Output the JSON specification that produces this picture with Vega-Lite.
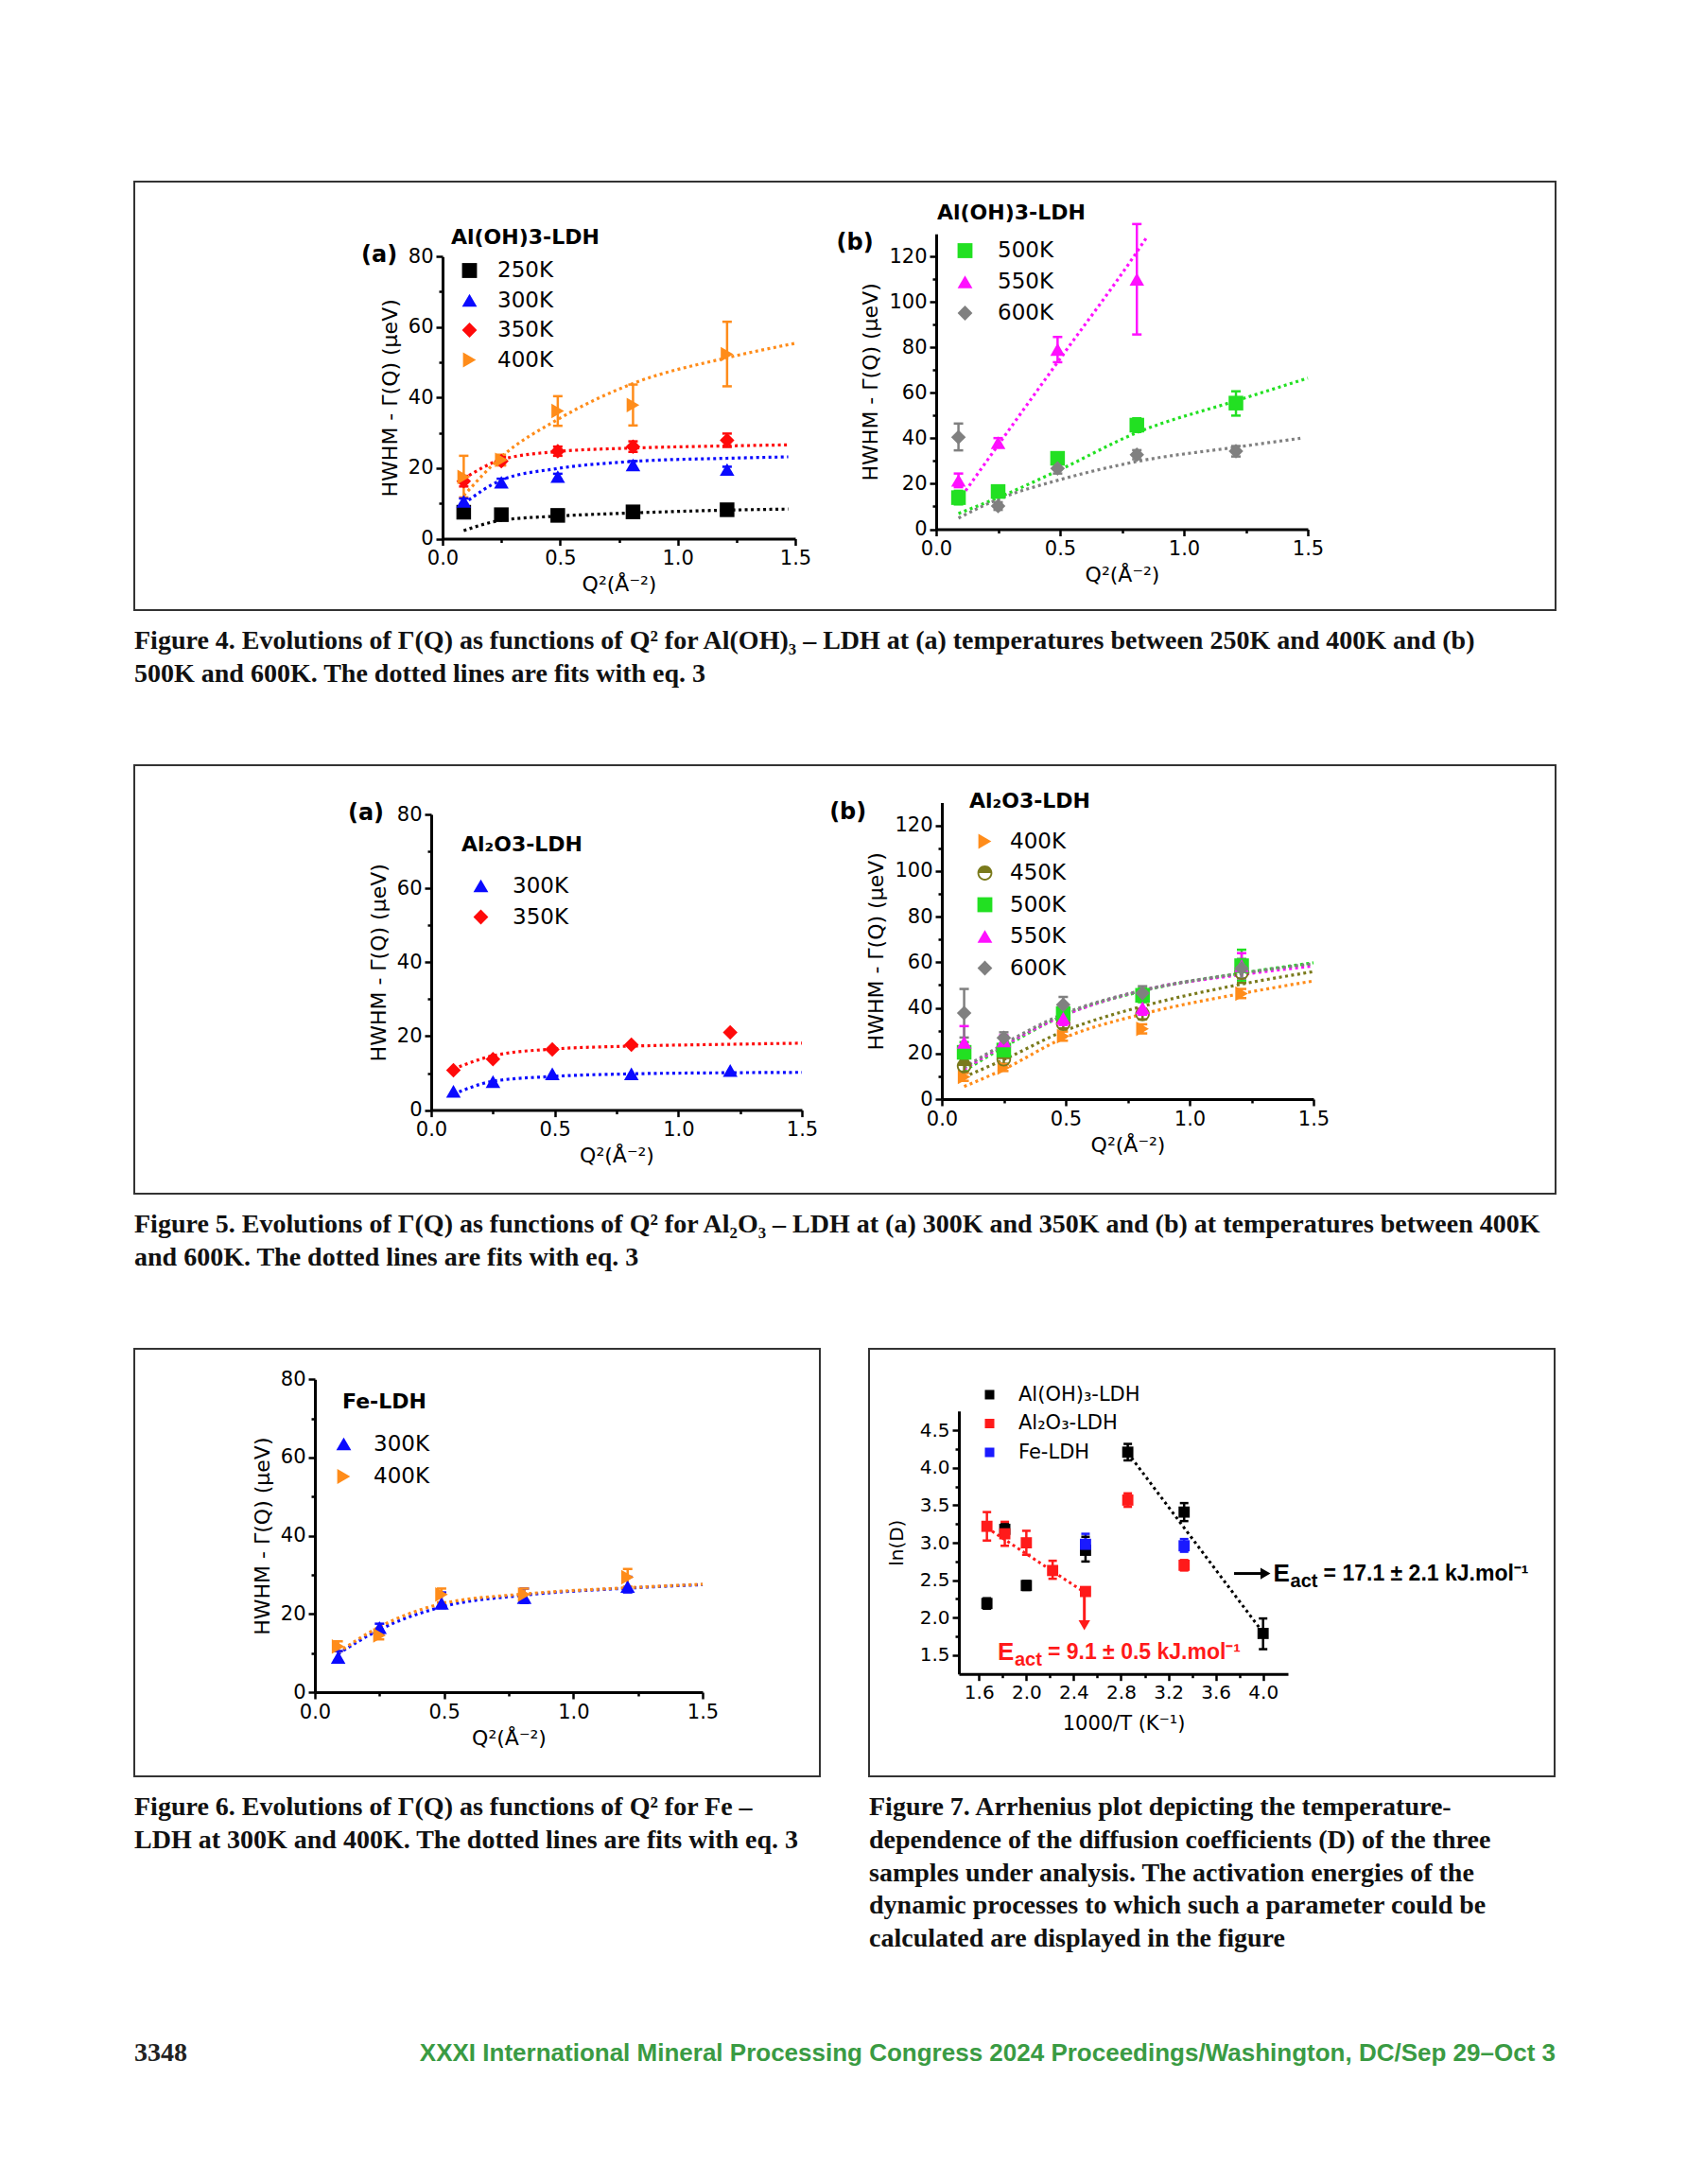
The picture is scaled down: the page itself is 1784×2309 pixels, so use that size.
{
  "$schema": "https://vega.github.io/schema/vega-lite/v6.json",
  "background": "white",
  "padding": {"left": 141, "top": 191, "right": 0, "bottom": 0},
  "spacing": 80,
  "resolve": {"scale": {"color": "independent", "shape": "independent", "stroke": "independent"}, "legend": {"color": "independent", "shape": "independent", "stroke": "independent"}},
  "config": {
    "font": "DejaVu Sans",
    "view": {"stroke": null},
    "axis": {"grid": false, "domainColor": "black", "domainWidth": 3, "tickColor": "black", "tickWidth": 2.5, "tickSize": 7, "labelFont": "DejaVu Sans", "labelFontSize": 21, "labelColor": "black", "labelPadding": 3, "titleFont": "DejaVu Sans", "titleFontSize": 22, "titleFontWeight": "normal", "titleColor": "black", "titlePadding": 7, "labelFlush": false, "labelOverlap": false},
    "legend": {"labelFont": "DejaVu Sans", "labelColor": "black", "titleFont": "DejaVu Sans", "titleColor": "black", "titleFontWeight": "bold", "padding": 0, "symbolStrokeWidth": 0}
  },
  "datasets": {
    "f4a_pts": [
      {"s": "250K", "x": 0.09, "y": 7.5, "lo": 6.6, "hi": 8.4},
      {"s": "250K", "x": 0.25, "y": 6.8, "lo": 5.9, "hi": 7.7},
      {"s": "250K", "x": 0.49, "y": 6.6, "lo": 5.8, "hi": 7.4},
      {"s": "250K", "x": 0.81, "y": 7.6, "lo": 6.8, "hi": 8.4},
      {"s": "250K", "x": 1.21, "y": 8.2, "lo": 7.3, "hi": 9.1},
      {"s": "300K", "x": 0.09, "y": 10.6, "lo": 9.8, "hi": 11.4},
      {"s": "300K", "x": 0.25, "y": 16.0, "lo": 15.0, "hi": 17.0},
      {"s": "300K", "x": 0.49, "y": 17.6, "lo": 16.8, "hi": 18.4},
      {"s": "300K", "x": 0.81, "y": 20.9, "lo": 19.8, "hi": 22.0},
      {"s": "300K", "x": 1.21, "y": 19.6, "lo": 18.8, "hi": 20.4},
      {"s": "350K", "x": 0.09, "y": 16.3, "lo": 14.8, "hi": 17.8},
      {"s": "350K", "x": 0.25, "y": 22.0, "lo": 20.8, "hi": 23.2},
      {"s": "350K", "x": 0.49, "y": 24.8, "lo": 23.5, "hi": 26.1},
      {"s": "350K", "x": 0.81, "y": 26.1, "lo": 24.6, "hi": 27.6},
      {"s": "350K", "x": 1.21, "y": 27.9, "lo": 26.0, "hi": 29.8},
      {"s": "400K", "x": 0.09, "y": 17.5, "lo": 11.7, "hi": 23.5},
      {"s": "400K", "x": 0.25, "y": 22.3, "lo": 20.8, "hi": 23.8},
      {"s": "400K", "x": 0.49, "y": 36.2, "lo": 32.0, "hi": 40.4},
      {"s": "400K", "x": 0.81, "y": 37.9, "lo": 32.1, "hi": 43.7},
      {"s": "400K", "x": 1.21, "y": 52.3, "lo": 43.2, "hi": 61.5}
    ],
    "f4a_fit": [
      {"s": "250K", "x": 0.09, "y": 2.3}, {"s": "250K", "x": 0.25, "y": 5.2}, {"s": "250K", "x": 0.49, "y": 6.4}, {"s": "250K", "x": 0.81, "y": 7.3}, {"s": "250K", "x": 1.21, "y": 8.1}, {"s": "250K", "x": 1.47, "y": 8.4},
      {"s": "300K", "x": 0.09, "y": 9.9}, {"s": "300K", "x": 0.25, "y": 16.6}, {"s": "300K", "x": 0.49, "y": 19.9}, {"s": "300K", "x": 0.81, "y": 21.9}, {"s": "300K", "x": 1.21, "y": 22.8}, {"s": "300K", "x": 1.47, "y": 23.2},
      {"s": "350K", "x": 0.09, "y": 17.0}, {"s": "350K", "x": 0.25, "y": 22.4}, {"s": "350K", "x": 0.49, "y": 24.7}, {"s": "350K", "x": 0.81, "y": 25.7}, {"s": "350K", "x": 1.21, "y": 26.3}, {"s": "350K", "x": 1.47, "y": 26.6},
      {"s": "400K", "x": 0.09, "y": 12.2}, {"s": "400K", "x": 0.25, "y": 23.2}, {"s": "400K", "x": 0.49, "y": 33.8}, {"s": "400K", "x": 0.81, "y": 44.0}, {"s": "400K", "x": 1.21, "y": 51.3}, {"s": "400K", "x": 1.5, "y": 55.4}
    ],
    "f4b_pts": [
      {"s": "500K", "x": 0.09, "y": 13.9, "lo": 10.9, "hi": 16.9},
      {"s": "500K", "x": 0.25, "y": 16.6, "lo": 14.6, "hi": 18.6},
      {"s": "500K", "x": 0.49, "y": 31.2, "lo": 29.2, "hi": 33.2},
      {"s": "500K", "x": 0.81, "y": 45.8, "lo": 42.8, "hi": 48.8},
      {"s": "500K", "x": 1.21, "y": 55.5, "lo": 50.0, "hi": 60.7},
      {"s": "550K", "x": 0.09, "y": 21.5, "lo": 18.5, "hi": 24.5},
      {"s": "550K", "x": 0.25, "y": 38.1, "lo": 36.1, "hi": 40.1},
      {"s": "550K", "x": 0.49, "y": 79.1, "lo": 73.5, "hi": 84.6},
      {"s": "550K", "x": 0.81, "y": 110.0, "lo": 85.7, "hi": 134.3},
      {"s": "600K", "x": 0.09, "y": 40.5, "lo": 34.7, "hi": 46.5},
      {"s": "600K", "x": 0.25, "y": 10.2, "lo": 8.5, "hi": 11.9},
      {"s": "600K", "x": 0.49, "y": 26.7, "lo": 24.5, "hi": 28.9},
      {"s": "600K", "x": 0.81, "y": 32.8, "lo": 30.8, "hi": 34.8},
      {"s": "600K", "x": 1.21, "y": 34.3, "lo": 32.0, "hi": 36.6}
    ],
    "f4b_fit": [
      {"s": "500K", "x": 0.09, "y": 6.9}, {"s": "500K", "x": 0.25, "y": 13.9}, {"s": "500K", "x": 0.49, "y": 25.7}, {"s": "500K", "x": 0.81, "y": 42.5}, {"s": "500K", "x": 1.21, "y": 56.5}, {"s": "500K", "x": 1.5, "y": 66.5},
      {"s": "550K", "x": 0.09, "y": 12.5}, {"s": "550K", "x": 0.25, "y": 37.0}, {"s": "550K", "x": 0.49, "y": 73.5}, {"s": "550K", "x": 0.81, "y": 122.0}, {"s": "550K", "x": 0.85, "y": 128.5},
      {"s": "600K", "x": 0.09, "y": 4.9}, {"s": "600K", "x": 0.25, "y": 13.2}, {"s": "600K", "x": 0.49, "y": 21.5}, {"s": "600K", "x": 0.81, "y": 29.8}, {"s": "600K", "x": 1.21, "y": 36.1}, {"s": "600K", "x": 1.47, "y": 40.0}
    ],
    "f5a_pts": [
      {"s": "300K", "x": 0.09, "y": 5.1, "lo": 4.1, "hi": 6.1},
      {"s": "300K", "x": 0.25, "y": 7.7, "lo": 6.7, "hi": 8.7},
      {"s": "300K", "x": 0.49, "y": 9.8, "lo": 8.8, "hi": 10.8},
      {"s": "300K", "x": 0.81, "y": 9.8, "lo": 8.8, "hi": 10.8},
      {"s": "300K", "x": 1.21, "y": 10.7, "lo": 9.7, "hi": 11.7},
      {"s": "350K", "x": 0.09, "y": 10.8, "lo": 9.8, "hi": 11.8},
      {"s": "350K", "x": 0.25, "y": 13.8, "lo": 12.8, "hi": 14.8},
      {"s": "350K", "x": 0.49, "y": 16.4, "lo": 15.4, "hi": 17.4},
      {"s": "350K", "x": 0.81, "y": 17.7, "lo": 16.7, "hi": 18.7},
      {"s": "350K", "x": 1.21, "y": 21.0, "lo": 20.0, "hi": 22.0}
    ],
    "f5a_fit": [
      {"s": "300K", "x": 0.09, "y": 4.3}, {"s": "300K", "x": 0.25, "y": 7.8}, {"s": "300K", "x": 0.49, "y": 9.1}, {"s": "300K", "x": 0.81, "y": 9.8}, {"s": "300K", "x": 1.21, "y": 10.1}, {"s": "300K", "x": 1.5, "y": 10.2},
      {"s": "350K", "x": 0.09, "y": 11.1}, {"s": "350K", "x": 0.25, "y": 14.7}, {"s": "350K", "x": 0.49, "y": 16.5}, {"s": "350K", "x": 0.81, "y": 17.3}, {"s": "350K", "x": 1.21, "y": 17.8}, {"s": "350K", "x": 1.5, "y": 18.1}
    ],
    "f5b_pts": [
      {"s": "400K", "x": 0.09, "y": 9.7, "lo": 8.0, "hi": 11.4},
      {"s": "400K", "x": 0.25, "y": 13.8, "lo": 12.3, "hi": 15.3},
      {"s": "400K", "x": 0.49, "y": 27.6, "lo": 25.6, "hi": 29.6},
      {"s": "400K", "x": 0.81, "y": 30.8, "lo": 28.8, "hi": 32.8},
      {"s": "400K", "x": 1.21, "y": 46.3, "lo": 44.3, "hi": 48.3},
      {"s": "450K", "x": 0.09, "y": 14.5, "lo": 12.0, "hi": 17.0},
      {"s": "450K", "x": 0.25, "y": 17.5, "lo": 15.5, "hi": 19.5},
      {"s": "450K", "x": 0.49, "y": 33.1, "lo": 31.0, "hi": 35.2},
      {"s": "450K", "x": 0.81, "y": 37.3, "lo": 35.0, "hi": 39.6},
      {"s": "450K", "x": 1.21, "y": 55.5, "lo": 51.0, "hi": 60.0},
      {"s": "500K", "x": 0.09, "y": 20.5, "lo": 16.0, "hi": 25.0},
      {"s": "500K", "x": 0.25, "y": 21.5, "lo": 19.0, "hi": 24.0},
      {"s": "500K", "x": 0.49, "y": 37.5, "lo": 34.5, "hi": 40.5},
      {"s": "500K", "x": 0.81, "y": 45.5, "lo": 42.5, "hi": 48.5},
      {"s": "500K", "x": 1.21, "y": 58.5, "lo": 52.0, "hi": 65.5},
      {"s": "550K", "x": 0.09, "y": 24.9, "lo": 18.0, "hi": 32.0},
      {"s": "550K", "x": 0.25, "y": 25.5, "lo": 23.0, "hi": 28.0},
      {"s": "550K", "x": 0.49, "y": 35.5, "lo": 32.5, "hi": 38.5},
      {"s": "550K", "x": 0.81, "y": 40.0, "lo": 37.0, "hi": 43.0},
      {"s": "550K", "x": 1.21, "y": 58.5, "lo": 53.0, "hi": 64.0},
      {"s": "600K", "x": 0.09, "y": 37.7, "lo": 27.0, "hi": 48.3},
      {"s": "600K", "x": 0.25, "y": 26.9, "lo": 24.5, "hi": 29.3},
      {"s": "600K", "x": 0.49, "y": 41.4, "lo": 38.0, "hi": 44.8},
      {"s": "600K", "x": 0.81, "y": 46.5, "lo": 43.5, "hi": 49.5},
      {"s": "600K", "x": 1.21, "y": 57.3, "lo": 53.0, "hi": 61.5}
    ],
    "f5b_fit": [
      {"s": "400K", "x": 0.09, "y": 5.5}, {"s": "400K", "x": 0.25, "y": 13.1}, {"s": "400K", "x": 0.49, "y": 26.7}, {"s": "400K", "x": 0.81, "y": 37.3}, {"s": "400K", "x": 1.21, "y": 46.3}, {"s": "400K", "x": 1.5, "y": 51.8},
      {"s": "450K", "x": 0.09, "y": 9.7}, {"s": "450K", "x": 0.25, "y": 17.3}, {"s": "450K", "x": 0.49, "y": 29.7}, {"s": "450K", "x": 0.81, "y": 40.7}, {"s": "450K", "x": 1.21, "y": 50.4}, {"s": "450K", "x": 1.5, "y": 55.9},
      {"s": "500K", "x": 0.09, "y": 12.4}, {"s": "500K", "x": 0.25, "y": 22.8}, {"s": "500K", "x": 0.49, "y": 36.6}, {"s": "500K", "x": 0.81, "y": 47.4}, {"s": "500K", "x": 1.21, "y": 55.2}, {"s": "500K", "x": 1.5, "y": 59.8},
      {"s": "550K", "x": 0.09, "y": 13.1}, {"s": "550K", "x": 0.25, "y": 23.5}, {"s": "550K", "x": 0.49, "y": 36.6}, {"s": "550K", "x": 0.81, "y": 47.7}, {"s": "550K", "x": 1.21, "y": 54.6}, {"s": "550K", "x": 1.5, "y": 58.4},
      {"s": "600K", "x": 0.09, "y": 13.8}, {"s": "600K", "x": 0.25, "y": 24.2}, {"s": "600K", "x": 0.49, "y": 37.3}, {"s": "600K", "x": 0.81, "y": 47.7}, {"s": "600K", "x": 1.21, "y": 55.2}, {"s": "600K", "x": 1.5, "y": 59.4}
    ],
    "f6_pts": [
      {"s": "300K", "x": 0.09, "y": 8.9, "lo": 8.0, "hi": 10.5},
      {"s": "300K", "x": 0.25, "y": 16.5, "lo": 15.0, "hi": 17.5},
      {"s": "300K", "x": 0.49, "y": 22.7, "lo": 21.5, "hi": 25.5},
      {"s": "300K", "x": 0.81, "y": 24.2, "lo": 22.8, "hi": 26.5},
      {"s": "300K", "x": 1.21, "y": 27.0, "lo": 25.5, "hi": 29.5},
      {"s": "400K", "x": 0.09, "y": 11.7, "lo": 10.5, "hi": 13.0},
      {"s": "400K", "x": 0.25, "y": 14.5, "lo": 13.5, "hi": 15.5},
      {"s": "400K", "x": 0.49, "y": 25.0, "lo": 23.0, "hi": 26.5},
      {"s": "400K", "x": 0.81, "y": 25.0, "lo": 23.5, "hi": 26.5},
      {"s": "400K", "x": 1.21, "y": 29.4, "lo": 27.0, "hi": 31.5}
    ],
    "f6_fit": [
      {"s": "300K", "x": 0.09, "y": 9.8}, {"s": "300K", "x": 0.25, "y": 16.0}, {"s": "300K", "x": 0.49, "y": 21.8}, {"s": "300K", "x": 0.81, "y": 24.8}, {"s": "300K", "x": 1.21, "y": 26.6}, {"s": "300K", "x": 1.5, "y": 27.5},
      {"s": "400K", "x": 0.09, "y": 10.2}, {"s": "400K", "x": 0.25, "y": 16.7}, {"s": "400K", "x": 0.49, "y": 22.6}, {"s": "400K", "x": 0.81, "y": 25.1}, {"s": "400K", "x": 1.21, "y": 26.7}, {"s": "400K", "x": 1.5, "y": 27.6}
    ],
    "f7_pts": [
      {"s": "Al(OH)₃-LDH", "x": 1.667, "y": 2.19, "lo": 2.12, "hi": 2.26},
      {"s": "Al(OH)₃-LDH", "x": 1.818, "y": 3.18, "lo": 3.1, "hi": 3.25},
      {"s": "Al(OH)₃-LDH", "x": 2.0, "y": 2.43, "lo": 2.37, "hi": 2.49},
      {"s": "Al(OH)₃-LDH", "x": 2.5, "y": 2.9, "lo": 2.75, "hi": 3.08},
      {"s": "Al(OH)₃-LDH", "x": 2.857, "y": 4.21, "lo": 4.1, "hi": 4.32},
      {"s": "Al(OH)₃-LDH", "x": 3.333, "y": 3.41, "lo": 3.29, "hi": 3.53},
      {"s": "Al(OH)₃-LDH", "x": 4.0, "y": 1.79, "lo": 1.58, "hi": 1.99},
      {"s": "Al₂O₃-LDH", "x": 1.667, "y": 3.22, "lo": 3.03, "hi": 3.41},
      {"s": "Al₂O₃-LDH", "x": 1.818, "y": 3.12, "lo": 2.96, "hi": 3.28},
      {"s": "Al₂O₃-LDH", "x": 2.0, "y": 3.0, "lo": 2.84, "hi": 3.16},
      {"s": "Al₂O₃-LDH", "x": 2.222, "y": 2.63, "lo": 2.52, "hi": 2.76},
      {"s": "Al₂O₃-LDH", "x": 2.5, "y": 2.35, "lo": 2.3, "hi": 2.4},
      {"s": "Al₂O₃-LDH", "x": 2.857, "y": 3.57, "lo": 3.48, "hi": 3.66},
      {"s": "Al₂O₃-LDH", "x": 3.333, "y": 2.7, "lo": 2.63, "hi": 2.77},
      {"s": "Fe-LDH", "x": 2.5, "y": 2.98, "lo": 2.85, "hi": 3.12},
      {"s": "Fe-LDH", "x": 3.333, "y": 2.96, "lo": 2.88, "hi": 3.05}
    ],
    "f7_fit": [
      {"s": "Al(OH)₃-LDH", "x": 2.857, "y": 4.2}, {"s": "Al(OH)₃-LDH", "x": 4.0, "y": 1.8},
      {"s": "Al₂O₃-LDH", "x": 1.667, "y": 3.2}, {"s": "Al₂O₃-LDH", "x": 2.5, "y": 2.33}
    ]
  },
  "vconcat": [
    {
      "width": 1503, "height": 453,
      "view": {"stroke": "#333333", "strokeWidth": 2},
      "title": {"text": ["Figure 4. Evolutions of Γ(Q) as functions of Q² for Al(OH)₃ – LDH at (a) temperatures between 250K and 400K and (b)", "500K and 600K. The dotted lines are fits with eq. 3"], "orient": "bottom", "anchor": "start", "frame": "group", "baseline": "top", "font": "Liberation Serif", "fontSize": 28, "fontWeight": "bold", "color": "#111111", "lineHeight": 34.5, "offset": 19},
      "resolve": {"scale": {"x": "independent", "y": "independent", "color": "independent", "shape": "independent", "stroke": "independent"}, "axis": {"x": "independent", "y": "independent"}, "legend": {"color": "independent", "shape": "independent", "stroke": "independent"}},
      "layer": [
        {
          "layer": [
            {"data": {"name": "f4a_fit"}, "mark": {"type": "line", "interpolate": "monotone", "strokeDash": [3, 3.5], "strokeWidth": 3.2},
              "encoding": {
                "x": {"field": "x", "type": "quantitative", "scale": {"domain": [0, 1.5], "range": [326, 699], "nice": false, "zero": false}, "axis": {"orient": "bottom", "offset": -75.5, "values": [0, 0.5, 1, 1.5], "format": ".1f", "title": "Q²(Å⁻²)"}},
                "y": {"field": "y", "type": "quantitative", "scale": {"domain": [0, 80], "range": [377.5, 79.2], "nice": false, "zero": false}, "axis": {"orient": "left", "offset": -326, "values": [0, 20, 40, 60, 80], "format": "d", "title": "HWHM - Γ(Q) (µeV)"}},
                "stroke": {"field": "s", "type": "nominal", "scale": {"range": ["#000000", "#0a0aff", "#ff0a0a", "#ff8c1a"]}, "legend": null}
              }},
            {"data": {"name": "f4a_pts"}, "mark": {"type": "rule", "strokeWidth": 2.5}, "encoding": {"x": {"field": "x", "type": "quantitative"}, "y": {"field": "lo", "type": "quantitative"}, "y2": {"field": "hi"}, "stroke": {"field": "s", "type": "nominal", "legend": null}}},
            {"data": {"name": "f4a_pts"}, "mark": {"type": "point", "shape": "stroke", "filled": false, "opacity": 1, "size": 100, "strokeWidth": 2.5}, "encoding": {"x": {"field": "x", "type": "quantitative"}, "y": {"field": "lo", "type": "quantitative"}, "stroke": {"field": "s", "type": "nominal", "legend": null}}},
            {"data": {"name": "f4a_pts"}, "mark": {"type": "point", "shape": "stroke", "filled": false, "opacity": 1, "size": 100, "strokeWidth": 2.5}, "encoding": {"x": {"field": "x", "type": "quantitative"}, "y": {"field": "hi", "type": "quantitative"}, "stroke": {"field": "s", "type": "nominal", "legend": null}}},
            {"data": {"name": "f4a_pts"}, "mark": {"type": "point", "filled": true, "opacity": 1, "size": 240},
              "encoding": {
                "x": {"field": "x", "type": "quantitative"}, "y": {"field": "y", "type": "quantitative"},
                "color": {"field": "s", "type": "nominal", "scale": {"domain": ["250K", "300K", "350K", "400K"], "range": ["#000000", "#0a0aff", "#ff0a0a", "#ff8c1a"]}, "legend": {"orient": "none", "legendX": 335, "legendY": 48.5, "title": "Al(OH)3-LDH", "titleFontSize": 22, "titlePadding": 12, "labelFontSize": 23, "labelOffset": 18, "symbolSize": 250, "symbolOffset": 8, "rowPadding": 7.5}},
                "shape": {"field": "s", "type": "nominal", "scale": {"domain": ["250K", "300K", "350K", "400K"], "range": ["square", "triangle-up", "diamond", "triangle-right"]}, "legend": {"orient": "none", "legendX": 335, "legendY": 48.5, "title": "Al(OH)3-LDH", "titleFontSize": 22, "titlePadding": 12, "labelFontSize": 23, "labelOffset": 18, "symbolSize": 250, "symbolOffset": 8, "rowPadding": 7.5}}
              }},
            {"data": {"values": [{}]}, "mark": {"type": "text", "text": "(a)", "font": "DejaVu Sans", "fontSize": 24, "fontWeight": "bold", "color": "black"}, "encoding": {"x": {"datum": -0.269}, "y": {"datum": 80.3}}}
          ]
        },
        {
          "layer": [
            {"data": {"name": "f4b_fit"}, "mark": {"type": "line", "interpolate": "monotone", "strokeDash": [3, 3.5], "strokeWidth": 3.2},
              "encoding": {
                "x": {"field": "x", "type": "quantitative", "scale": {"domain": [0, 1.5], "range": [848, 1241], "nice": false, "zero": false}, "axis": {"orient": "bottom", "offset": -85.5, "values": [0, 0.5, 1, 1.5], "format": ".1f", "title": "Q²(Å⁻²)"}},
                "y": {"field": "y", "type": "quantitative", "scale": {"domain": [0, 130], "range": [367.5, 55.2], "nice": false, "zero": false}, "axis": {"orient": "left", "offset": -848, "values": [0, 20, 40, 60, 80, 100, 120], "format": "d", "title": "HWHM - Γ(Q) (µeV)"}},
                "stroke": {"field": "s", "type": "nominal", "scale": {"range": ["#22e022", "#ff10ff", "#808080"]}, "legend": null}
              }},
            {"data": {"name": "f4b_pts"}, "mark": {"type": "rule", "strokeWidth": 2.5}, "encoding": {"x": {"field": "x", "type": "quantitative"}, "y": {"field": "lo", "type": "quantitative"}, "y2": {"field": "hi"}, "stroke": {"field": "s", "type": "nominal", "legend": null}}},
            {"data": {"name": "f4b_pts"}, "mark": {"type": "point", "shape": "stroke", "filled": false, "opacity": 1, "size": 100, "strokeWidth": 2.5}, "encoding": {"x": {"field": "x", "type": "quantitative"}, "y": {"field": "lo", "type": "quantitative"}, "stroke": {"field": "s", "type": "nominal", "legend": null}}},
            {"data": {"name": "f4b_pts"}, "mark": {"type": "point", "shape": "stroke", "filled": false, "opacity": 1, "size": 100, "strokeWidth": 2.5}, "encoding": {"x": {"field": "x", "type": "quantitative"}, "y": {"field": "hi", "type": "quantitative"}, "stroke": {"field": "s", "type": "nominal", "legend": null}}},
            {"data": {"name": "f4b_pts"}, "mark": {"type": "point", "filled": true, "opacity": 1, "size": 240},
              "encoding": {
                "x": {"field": "x", "type": "quantitative"}, "y": {"field": "y", "type": "quantitative"},
                "color": {"field": "s", "type": "nominal", "scale": {"domain": ["500K", "550K", "600K"], "range": ["#22e022", "#ff10ff", "#808080"]}, "legend": {"orient": "none", "legendX": 849, "legendY": 22.5, "title": "Al(OH)3-LDH", "titleFontSize": 22, "titlePadding": 17, "labelFontSize": 23, "labelOffset": 23, "symbolSize": 250, "symbolOffset": 18, "rowPadding": 9}},
                "shape": {"field": "s", "type": "nominal", "scale": {"domain": ["500K", "550K", "600K"], "range": ["square", "triangle-up", "diamond"]}, "legend": {"orient": "none", "legendX": 849, "legendY": 22.5, "title": "Al(OH)3-LDH", "titleFontSize": 22, "titlePadding": 17, "labelFontSize": 23, "labelOffset": 23, "symbolSize": 250, "symbolOffset": 18, "rowPadding": 9}}
              }},
            {"data": {"values": [{}]}, "mark": {"type": "text", "text": "(b)", "font": "DejaVu Sans", "fontSize": 24, "fontWeight": "bold", "color": "black"}, "encoding": {"x": {"datum": -0.328}, "y": {"datum": 126.1}}}
          ]
        },
        {"data": {"values": [{}]}, "mark": {"type": "point", "opacity": 0},
          "encoding": {
            "x": {"datum": 0.75, "scale": {"domain": [0, 1.5], "range": [326, 699], "nice": false, "zero": false}, "axis": {"orient": "bottom", "offset": -75.5, "values": [0.25, 0.75, 1.25], "labels": false, "domain": false, "title": null, "tickSize": 4}},
            "y": {"datum": 30, "scale": {"domain": [0, 80], "range": [377.5, 79.2], "nice": false, "zero": false}, "axis": {"orient": "left", "offset": -326, "values": [10, 30, 50, 70], "labels": false, "domain": false, "title": null, "tickSize": 4}}
          }},
        {"data": {"values": [{}]}, "mark": {"type": "point", "opacity": 0},
          "encoding": {
            "x": {"datum": 0.75, "scale": {"domain": [0, 1.5], "range": [848, 1241], "nice": false, "zero": false}, "axis": {"orient": "bottom", "offset": -85.5, "values": [0.25, 0.75, 1.25], "labels": false, "domain": false, "title": null, "tickSize": 4}},
            "y": {"datum": 30, "scale": {"domain": [0, 130], "range": [367.5, 55.2], "nice": false, "zero": false}, "axis": {"orient": "left", "offset": -848, "values": [10, 30, 50, 70, 90, 110], "labels": false, "domain": false, "title": null, "tickSize": 4}}
          }}
      ]
    },
    {
      "width": 1503, "height": 453,
      "view": {"stroke": "#333333", "strokeWidth": 2},
      "title": {"text": ["Figure 5. Evolutions of Γ(Q) as functions of Q² for Al₂O₃ – LDH at (a) 300K and 350K and (b) at temperatures between 400K", "and 600K. The dotted lines are fits with eq. 3"], "orient": "bottom", "anchor": "start", "frame": "group", "baseline": "top", "font": "Liberation Serif", "fontSize": 28, "fontWeight": "bold", "color": "#111111", "lineHeight": 34.5, "offset": 19},
      "resolve": {"scale": {"x": "independent", "y": "independent", "color": "independent", "shape": "independent", "stroke": "independent"}, "axis": {"x": "independent", "y": "independent"}, "legend": {"color": "independent", "shape": "independent", "stroke": "independent"}},
      "layer": [
        {
          "layer": [
            {"data": {"name": "f5a_fit"}, "mark": {"type": "line", "interpolate": "monotone", "strokeDash": [3, 3.5], "strokeWidth": 3.2},
              "encoding": {
                "x": {"field": "x", "type": "quantitative", "scale": {"domain": [0, 1.5], "range": [314, 706], "nice": false, "zero": false}, "axis": {"orient": "bottom", "offset": -88.4, "values": [0, 0.5, 1, 1.5], "format": ".1f", "title": "Q²(Å⁻²)"}},
                "y": {"field": "y", "type": "quantitative", "scale": {"domain": [0, 80], "range": [364.6, 52], "nice": false, "zero": false}, "axis": {"orient": "left", "offset": -314, "values": [0, 20, 40, 60, 80], "format": "d", "title": "HWHM - Γ(Q) (µeV)"}},
                "stroke": {"field": "s", "type": "nominal", "scale": {"range": ["#0a0aff", "#ff0a0a"]}, "legend": null}
              }},
            {"data": {"name": "f5a_pts"}, "mark": {"type": "rule", "strokeWidth": 2.5}, "encoding": {"x": {"field": "x", "type": "quantitative"}, "y": {"field": "lo", "type": "quantitative"}, "y2": {"field": "hi"}, "stroke": {"field": "s", "type": "nominal", "legend": null}}},
            {"data": {"name": "f5a_pts"}, "mark": {"type": "point", "filled": true, "opacity": 1, "size": 240},
              "encoding": {
                "x": {"field": "x", "type": "quantitative"}, "y": {"field": "y", "type": "quantitative"},
                "color": {"field": "s", "type": "nominal", "scale": {"domain": ["300K", "350K"], "range": ["#0a0aff", "#ff0a0a"]}, "legend": {"orient": "none", "legendX": 346, "legendY": 74, "title": "Al₂O3-LDH", "titleFontSize": 22, "titlePadding": 20, "labelFontSize": 23, "labelOffset": 22, "symbolSize": 250, "symbolOffset": 9, "rowPadding": 9}},
                "shape": {"field": "s", "type": "nominal", "scale": {"domain": ["300K", "350K"], "range": ["triangle-up", "diamond"]}, "legend": {"orient": "none", "legendX": 346, "legendY": 74, "title": "Al₂O3-LDH", "titleFontSize": 22, "titlePadding": 20, "labelFontSize": 23, "labelOffset": 22, "symbolSize": 250, "symbolOffset": 9, "rowPadding": 9}}
              }},
            {"data": {"values": [{}]}, "mark": {"type": "text", "text": "(a)", "font": "DejaVu Sans", "fontSize": 24, "fontWeight": "bold", "color": "black"}, "encoding": {"x": {"datum": -0.264}, "y": {"datum": 80.2}}}
          ]
        },
        {
          "layer": [
            {"data": {"name": "f5b_fit"}, "mark": {"type": "line", "interpolate": "monotone", "strokeDash": [3, 3.5], "strokeWidth": 3.2},
              "encoding": {
                "x": {"field": "x", "type": "quantitative", "scale": {"domain": [0, 1.5], "range": [854, 1247], "nice": false, "zero": false}, "axis": {"orient": "bottom", "offset": -100, "values": [0, 0.5, 1, 1.5], "format": ".1f", "title": "Q²(Å⁻²)"}},
                "y": {"field": "y", "type": "quantitative", "scale": {"domain": [0, 130], "range": [353, 39.6], "nice": false, "zero": false}, "axis": {"orient": "left", "offset": -854, "values": [0, 20, 40, 60, 80, 100, 120], "format": "d", "title": "HWHM - Γ(Q) (µeV)"}},
                "stroke": {"field": "s", "type": "nominal", "scale": {"range": ["#ff8c1a", "#7a7a1c", "#22e022", "#ff10ff", "#808080"]}, "legend": null}
              }},
            {"data": {"name": "f5b_pts"}, "mark": {"type": "rule", "strokeWidth": 2.5}, "encoding": {"x": {"field": "x", "type": "quantitative"}, "y": {"field": "lo", "type": "quantitative"}, "y2": {"field": "hi"}, "stroke": {"field": "s", "type": "nominal", "legend": null}}},
            {"data": {"name": "f5b_pts"}, "mark": {"type": "point", "shape": "stroke", "filled": false, "opacity": 1, "size": 100, "strokeWidth": 2.5}, "encoding": {"x": {"field": "x", "type": "quantitative"}, "y": {"field": "lo", "type": "quantitative"}, "stroke": {"field": "s", "type": "nominal", "legend": null}}},
            {"data": {"name": "f5b_pts"}, "mark": {"type": "point", "shape": "stroke", "filled": false, "opacity": 1, "size": 100, "strokeWidth": 2.5}, "encoding": {"x": {"field": "x", "type": "quantitative"}, "y": {"field": "hi", "type": "quantitative"}, "stroke": {"field": "s", "type": "nominal", "legend": null}}},
            {"data": {"name": "f5b_pts"}, "mark": {"type": "point", "filled": true, "opacity": 1, "size": 240},
              "encoding": {
                "x": {"field": "x", "type": "quantitative"}, "y": {"field": "y", "type": "quantitative"},
                "color": {"field": "s", "type": "nominal", "scale": {"domain": ["400K", "450K", "500K", "550K", "600K"], "range": ["#ff8c1a", "#7a7a1c", "#22e022", "#ff10ff", "#808080"]}, "legend": {"orient": "none", "legendX": 883, "legendY": 28, "title": "Al₂O3-LDH", "titleFontSize": 22, "titlePadding": 19, "labelFontSize": 23, "labelOffset": 15, "symbolSize": 250, "symbolOffset": 5, "rowPadding": 9.5}},
                "shape": {"field": "s", "type": "nominal", "scale": {"domain": ["400K", "450K", "500K", "550K", "600K"], "range": ["triangle-right", "M-1,0A1,1,0,0,1,1,0Z M-1,0A1,1,0,0,0,1,0L0.76,0A0.76,0.76,0,0,1,-0.76,0Z", "square", "triangle-up", "diamond"]}, "legend": {"orient": "none", "legendX": 883, "legendY": 28, "title": "Al₂O3-LDH", "titleFontSize": 22, "titlePadding": 19, "labelFontSize": 23, "labelOffset": 15, "symbolSize": 250, "symbolOffset": 5, "rowPadding": 9.5}}
              }},
            {"data": {"values": [{}]}, "mark": {"type": "text", "text": "(b)", "font": "DejaVu Sans", "fontSize": 24, "fontWeight": "bold", "color": "black"}, "encoding": {"x": {"datum": -0.379}, "y": {"datum": 125.6}}}
          ]
        },
        {"data": {"values": [{}]}, "mark": {"type": "point", "opacity": 0},
          "encoding": {
            "x": {"datum": 0.75, "scale": {"domain": [0, 1.5], "range": [314, 706], "nice": false, "zero": false}, "axis": {"orient": "bottom", "offset": -88.4, "values": [0.25, 0.75, 1.25], "labels": false, "domain": false, "title": null, "tickSize": 4}},
            "y": {"datum": 30, "scale": {"domain": [0, 80], "range": [364.6, 52], "nice": false, "zero": false}, "axis": {"orient": "left", "offset": -314, "values": [10, 30, 50, 70], "labels": false, "domain": false, "title": null, "tickSize": 4}}
          }},
        {"data": {"values": [{}]}, "mark": {"type": "point", "opacity": 0},
          "encoding": {
            "x": {"datum": 0.75, "scale": {"domain": [0, 1.5], "range": [854, 1247], "nice": false, "zero": false}, "axis": {"orient": "bottom", "offset": -100, "values": [0.25, 0.75, 1.25], "labels": false, "domain": false, "title": null, "tickSize": 4}},
            "y": {"datum": 30, "scale": {"domain": [0, 130], "range": [353, 39.6], "nice": false, "zero": false}, "axis": {"orient": "left", "offset": -854, "values": [10, 30, 50, 70, 90, 110], "labels": false, "domain": false, "title": null, "tickSize": 4}}
          }}
      ]
    },
    {
      "spacing": 50,
      "resolve": {"scale": {"color": "independent", "shape": "independent", "stroke": "independent"}, "legend": {"color": "independent", "shape": "independent", "stroke": "independent"}},
      "hconcat": [
        {
          "width": 725, "height": 452,
          "view": {"stroke": "#333333", "strokeWidth": 2},
          "title": {"text": ["Figure 6. Evolutions of Γ(Q) as functions of Q² for Fe –", "LDH at 300K and 400K. The dotted lines are fits with eq. 3"], "orient": "bottom", "anchor": "start", "frame": "group", "baseline": "top", "font": "Liberation Serif", "fontSize": 28, "fontWeight": "bold", "color": "#111111", "lineHeight": 34.8, "offset": 19},
          "resolve": {"scale": {"x": "independent", "y": "independent"}, "axis": {"x": "independent", "y": "independent"}},
          "layer": [
            {
              "layer": [
                {"data": {"name": "f6_fit"}, "mark": {"type": "line", "interpolate": "monotone", "strokeDash": [3, 3.5], "strokeWidth": 3.2},
                  "encoding": {
                    "x": {"field": "x", "type": "quantitative", "scale": {"domain": [0, 1.5], "range": [191, 601], "nice": false, "zero": false}, "axis": {"orient": "bottom", "offset": -89, "values": [0, 0.5, 1, 1.5], "format": ".1f", "title": "Q²(Å⁻²)"}},
                    "y": {"field": "y", "type": "quantitative", "scale": {"domain": [0, 80], "range": [363, 32.3], "nice": false, "zero": false}, "axis": {"orient": "left", "offset": -191, "values": [0, 20, 40, 60, 80], "format": "d", "title": "HWHM - Γ(Q) (µeV)"}},
                    "stroke": {"field": "s", "type": "nominal", "scale": {"range": ["#0a0aff", "#ff8c1a"]}, "legend": null}
                  }},
                {"data": {"name": "f6_pts"}, "mark": {"type": "rule", "strokeWidth": 2.5}, "encoding": {"x": {"field": "x", "type": "quantitative"}, "y": {"field": "lo", "type": "quantitative"}, "y2": {"field": "hi"}, "stroke": {"field": "s", "type": "nominal", "legend": null}}},
                {"data": {"name": "f6_pts"}, "mark": {"type": "point", "shape": "stroke", "filled": false, "opacity": 1, "size": 100, "strokeWidth": 2.5}, "encoding": {"x": {"field": "x", "type": "quantitative"}, "y": {"field": "lo", "type": "quantitative"}, "stroke": {"field": "s", "type": "nominal", "legend": null}}},
                {"data": {"name": "f6_pts"}, "mark": {"type": "point", "shape": "stroke", "filled": false, "opacity": 1, "size": 100, "strokeWidth": 2.5}, "encoding": {"x": {"field": "x", "type": "quantitative"}, "y": {"field": "hi", "type": "quantitative"}, "stroke": {"field": "s", "type": "nominal", "legend": null}}},
                {"data": {"name": "f6_pts"}, "mark": {"type": "point", "filled": true, "opacity": 1, "size": 240},
                  "encoding": {
                    "x": {"field": "x", "type": "quantitative"}, "y": {"field": "y", "type": "quantitative"},
                    "color": {"field": "s", "type": "nominal", "scale": {"domain": ["300K", "400K"], "range": ["#0a0aff", "#ff8c1a"]}, "legend": {"orient": "none", "legendX": 220, "legendY": 46, "title": "Fe-LDH", "titleFontSize": 22, "titlePadding": 21, "labelFontSize": 23, "labelOffset": 20, "symbolSize": 250, "symbolOffset": -10, "rowPadding": 10.5}},
                    "shape": {"field": "s", "type": "nominal", "scale": {"domain": ["300K", "400K"], "range": ["triangle-up", "triangle-right"]}, "legend": {"orient": "none", "legendX": 220, "legendY": 46, "title": "Fe-LDH", "titleFontSize": 22, "titlePadding": 21, "labelFontSize": 23, "labelOffset": 20, "symbolSize": 250, "symbolOffset": -10, "rowPadding": 10.5}}
                  }}
              ]
            },
            {"data": {"values": [{}]}, "mark": {"type": "point", "opacity": 0},
              "encoding": {
                "x": {"datum": 0.75, "scale": {"domain": [0, 1.5], "range": [191, 601], "nice": false, "zero": false}, "axis": {"orient": "bottom", "offset": -89, "values": [0.25, 0.75, 1.25], "labels": false, "domain": false, "title": null, "tickSize": 4}},
                "y": {"datum": 30, "scale": {"domain": [0, 80], "range": [363, 32.3], "nice": false, "zero": false}, "axis": {"orient": "left", "offset": -191, "values": [10, 30, 50, 70], "labels": false, "domain": false, "title": null, "tickSize": 4}}
              }}
          ]
        },
        {
          "width": 725, "height": 452,
          "view": {"stroke": "#333333", "strokeWidth": 2},
          "title": {"text": ["Figure 7. Arrhenius plot depicting the temperature-", "dependence of the diffusion coefficients (D) of the three", "samples under analysis. The activation energies of the", "dynamic processes to which such a parameter could be", "calculated are displayed in the figure"], "orient": "bottom", "anchor": "start", "frame": "group", "baseline": "top", "font": "Liberation Serif", "fontSize": 28, "fontWeight": "bold", "color": "#111111", "lineHeight": 34.8, "offset": 19},
          "resolve": {"scale": {"x": "independent", "y": "independent"}, "axis": {"x": "independent", "y": "independent"}},
          "layer": [
            {
              "layer": [
                {"data": {"name": "f7_fit"}, "mark": {"type": "line", "strokeDash": [3, 3.5], "strokeWidth": 3},
                  "encoding": {
                    "x": {"field": "x", "type": "quantitative", "scale": {"domain": [1.43, 4.21], "range": [95, 443], "nice": false, "zero": false}, "axis": {"orient": "bottom", "offset": -108.3, "values": [1.6, 2.0, 2.4, 2.8, 3.2, 3.6, 4.0], "format": ".1f", "title": "1000/T (K⁻¹)", "labelFontSize": 20, "titleFontSize": 21, "titlePadding": 12}},
                    "y": {"field": "y", "type": "quantitative", "scale": {"domain": [1.25, 4.76], "range": [343.7, 65.7], "nice": false, "zero": false}, "axis": {"orient": "left", "offset": -95, "values": [1.5, 2.0, 2.5, 3.0, 3.5, 4.0, 4.5], "format": ".1f", "title": "ln(D)", "labelFontSize": 20, "titleFontSize": 20, "titlePadding": 14}},
                    "stroke": {"field": "s", "type": "nominal", "scale": {"range": ["#000000", "#ff1a1a", "#1a1aff"]}, "legend": null}
                  }},
                {"data": {"name": "f7_pts"}, "mark": {"type": "rule", "strokeWidth": 2.5}, "encoding": {"x": {"field": "x", "type": "quantitative"}, "y": {"field": "lo", "type": "quantitative"}, "y2": {"field": "hi"}, "stroke": {"field": "s", "type": "nominal", "legend": null}}},
                {"data": {"name": "f7_pts"}, "mark": {"type": "point", "shape": "stroke", "filled": false, "opacity": 1, "size": 81, "strokeWidth": 2.5}, "encoding": {"x": {"field": "x", "type": "quantitative"}, "y": {"field": "lo", "type": "quantitative"}, "stroke": {"field": "s", "type": "nominal", "legend": null}}},
                {"data": {"name": "f7_pts"}, "mark": {"type": "point", "shape": "stroke", "filled": false, "opacity": 1, "size": 81, "strokeWidth": 2.5}, "encoding": {"x": {"field": "x", "type": "quantitative"}, "y": {"field": "hi", "type": "quantitative"}, "stroke": {"field": "s", "type": "nominal", "legend": null}}},
                {"data": {"name": "f7_pts"}, "mark": {"type": "point", "filled": true, "opacity": 1, "size": 140, "shape": "square"},
                  "encoding": {
                    "x": {"field": "x", "type": "quantitative"}, "y": {"field": "y", "type": "quantitative"},
                    "color": {"field": "s", "type": "nominal", "scale": {"domain": ["Al(OH)₃-LDH", "Al₂O₃-LDH", "Fe-LDH"], "range": ["#000000", "#ff1a1a", "#1a1aff"]}, "legend": {"orient": "none", "legendX": 117, "legendY": 38, "title": null, "labelFontSize": 21, "labelOffset": 20, "symbolSize": 100, "symbolType": "square", "rowPadding": 8.5}}
                  }},
                {"data": {"values": [{}]}, "mark": {"type": "rule", "strokeWidth": 3, "color": "black"}, "encoding": {"x": {"datum": 3.755}, "x2": {"datum": 4.0}, "y": {"datum": 2.59}}},
                {"data": {"values": [{}]}, "mark": {"type": "point", "shape": "triangle-right", "filled": true, "opacity": 1, "size": 150, "color": "black"}, "encoding": {"x": {"datum": 4.02}, "y": {"datum": 2.59}}},
                {"data": {"values": [{}]}, "mark": {"type": "rule", "strokeWidth": 3, "color": "#ff1a1a"}, "encoding": {"x": {"datum": 2.49}, "y": {"datum": 2.31}, "y2": {"datum": 1.93}}},
                {"data": {"values": [{}]}, "mark": {"type": "point", "shape": "triangle-down", "filled": true, "opacity": 1, "size": 150, "color": "#ff1a1a"}, "encoding": {"x": {"datum": 2.49}, "y": {"datum": 1.9}}},
                {"data": {"values": [{}]}, "mark": {"type": "text", "text": "E", "align": "left", "baseline": "middle", "font": "Liberation Sans", "fontSize": 26, "fontWeight": "bold", "color": "black"}, "encoding": {"x": {"datum": 4.087}, "y": {"datum": 2.59}}},
                {"data": {"values": [{}]}, "mark": {"type": "text", "text": "act", "align": "left", "baseline": "middle", "font": "Liberation Sans", "fontSize": 20, "fontWeight": "bold", "dx": 18, "dy": 8, "color": "black"}, "encoding": {"x": {"datum": 4.087}, "y": {"datum": 2.59}}},
                {"data": {"values": [{}]}, "mark": {"type": "text", "text": "= 17.1 ± 2.1 kJ.mol⁻¹", "align": "left", "baseline": "middle", "font": "Liberation Sans", "fontSize": 23, "fontWeight": "bold", "dx": 53, "color": "black"}, "encoding": {"x": {"datum": 4.087}, "y": {"datum": 2.59}}},
                {"data": {"values": [{}]}, "mark": {"type": "text", "text": "E", "align": "left", "baseline": "middle", "font": "Liberation Sans", "fontSize": 26, "fontWeight": "bold", "color": "#ff1a1a"}, "encoding": {"x": {"datum": 1.757}, "y": {"datum": 1.54}}},
                {"data": {"values": [{}]}, "mark": {"type": "text", "text": "act", "align": "left", "baseline": "middle", "font": "Liberation Sans", "fontSize": 20, "fontWeight": "bold", "dx": 18, "dy": 8, "color": "#ff1a1a"}, "encoding": {"x": {"datum": 1.757}, "y": {"datum": 1.54}}},
                {"data": {"values": [{}]}, "mark": {"type": "text", "text": "= 9.1 ± 0.5 kJ.mol⁻¹", "align": "left", "baseline": "middle", "font": "Liberation Sans", "fontSize": 23, "fontWeight": "bold", "dx": 53, "color": "#ff1a1a"}, "encoding": {"x": {"datum": 1.757}, "y": {"datum": 1.54}}}
              ]
            },
            {"data": {"values": [{}]}, "mark": {"type": "point", "opacity": 0},
              "encoding": {
                "x": {"datum": 3.0, "scale": {"domain": [1.43, 4.21], "range": [95, 443], "nice": false, "zero": false}, "axis": {"orient": "bottom", "offset": -108.3, "values": [1.8, 2.2, 2.6, 3.0, 3.4, 3.8], "labels": false, "domain": false, "title": null, "tickSize": 4}},
                "y": {"datum": 3.0, "scale": {"domain": [1.25, 4.76], "range": [343.7, 65.7], "nice": false, "zero": false}, "axis": {"orient": "left", "offset": -95, "values": [1.75, 2.25, 2.75, 3.25, 3.75, 4.25], "labels": false, "domain": false, "title": null, "tickSize": 4}}
              }}
          ]
        }
      ]
    },
    {
      "width": 1503, "height": 50,
      "data": {"values": [{}]},
      "encoding": {
        "y": {"datum": 0.5, "scale": {"domain": [0, 1]}, "axis": null}
      },
      "layer": [
        {"mark": {"type": "text", "text": "3348", "align": "left", "baseline": "middle", "font": "Liberation Serif", "fontSize": 28, "fontWeight": "bold", "color": "#222222"}, "encoding": {"x": {"datum": 0, "scale": {"domain": [0, 1]}, "axis": null}}},
        {"mark": {"type": "text", "text": "XXXI International Mineral Processing Congress 2024 Proceedings/Washington, DC/Sep 29–Oct 3", "align": "right", "baseline": "middle", "font": "Liberation Sans", "fontSize": 26, "fontWeight": "bold", "color": "#3a9b43"}, "encoding": {"x": {"datum": 1}}}
      ]
    }
  ]
}
